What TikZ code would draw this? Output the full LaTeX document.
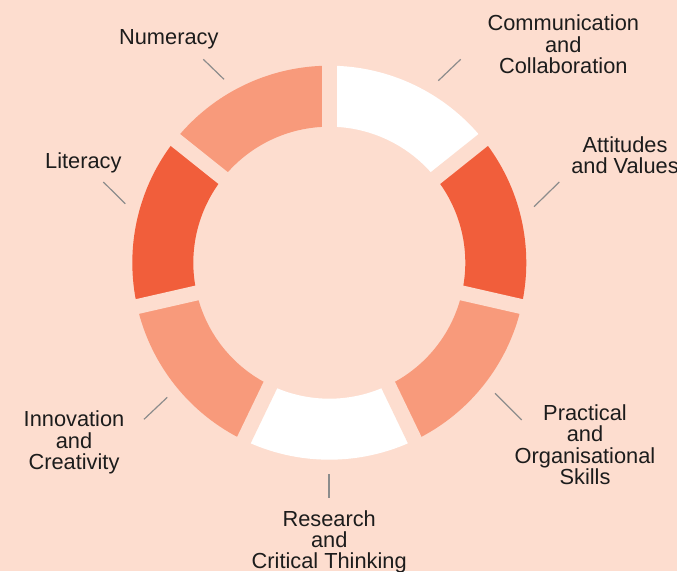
\documentclass[tikz,border=0pt]{standalone}
\usepackage{fontspec}
\setmainfont{Liberation Sans}
\definecolor{bgc}{HTML}{FDDDCF}
\definecolor{salmon}{HTML}{F89A7B}
\definecolor{redor}{HTML}{F15E3B}
\definecolor{tickc}{HTML}{8C8C8C}
\definecolor{txt}{HTML}{1C1C1C}
\tikzset{
  lbl/.style={align=center, anchor=base, inner sep=0pt, text=txt,
    font=\fontsize{21.8}{21.3}\selectfont},
  ticky/.style={draw=tickc, line width=1.2pt},
  gapline/.style={draw=bgc, line width=15pt}
}
\begin{document}
\begin{tikzpicture}[x=1pt,y=1pt]
\useasboundingbox (0,0) rectangle (677,-571);
\fill[bgc] (0,0) rectangle (677,-571);
\begin{scope}[shift={(329.3,-262.7)}]
  \def\Ro{197}\def\Ri{136}
  % segments clockwise from top
  \foreach \a/\b/\c in {90/38.571/white, 38.571/-12.857/redor, -12.857/-64.286/salmon,
      -64.286/-115.714/white, -115.714/-167.143/salmon, -167.143/-218.571/redor,
      -218.571/-270/salmon}{
    \fill[\c] (\a:\Ro) arc[start angle=\a, end angle=\b, radius=\Ro]
      -- (\b:\Ri) arc[start angle=\b, end angle=\a, radius=\Ri] -- cycle;
  }
  \foreach \g in {90, 38.571, -12.857, -64.286, -115.714, -167.143, -218.571}{
    \draw[gapline] (0,0) -- (\g:205);
  }
\end{scope}
% tick lines
\coordinate (tn1) at (203.3,-59.3);  \coordinate (tn2) at (224,-79.3);
\coordinate (tc1) at (438.3,-80.7);  \coordinate (tc2) at (460.7,-59.3);
\coordinate (ta1) at (559.3,-182);   \coordinate (ta2) at (534,-206.7);
\coordinate (tl1) at (103.3,-182);   \coordinate (tl2) at (125.3,-203.7);
\coordinate (tp1) at (495,-393.3);   \coordinate (tp2) at (521.7,-420);
\coordinate (ti1) at (144,-419.3);   \coordinate (ti2) at (167.3,-397.3);
\coordinate (tr1) at (329,-474);     \coordinate (tr2) at (329,-498.3);
\draw[ticky] (tn1) -- (tn2);
\draw[ticky] (tc1) -- (tc2);
\draw[ticky] (ta1) -- (ta2);
\draw[ticky] (tl1) -- (tl2);
\draw[ticky] (tp1) -- (tp2);
\draw[ticky] (ti1) -- (ti2);
\draw[ticky] (tr1) -- (tr2);
% labels (anchor = baseline of last line)
\node[lbl] (num) at (168.8,-44.3) {Numeracy};
\node[lbl] (lit) at (83.3,-168) {Literacy};
\node[lbl] (com) at (563.3,-73.3) {Communication\\and\\Collaboration};
\node[lbl] (att) at (625,-173.3) {Attitudes\\and Values};
\node[lbl] (pra) at (585,-484.3) {Practical\\and\\Organisational\\Skills};
\node[lbl] (inn) at (74,-469.5) {Innovation\\and\\Creativity};
\node[lbl] (res) at (329.2,-568.6) {Research\\and\\Critical Thinking};
\end{tikzpicture}
\end{document}
